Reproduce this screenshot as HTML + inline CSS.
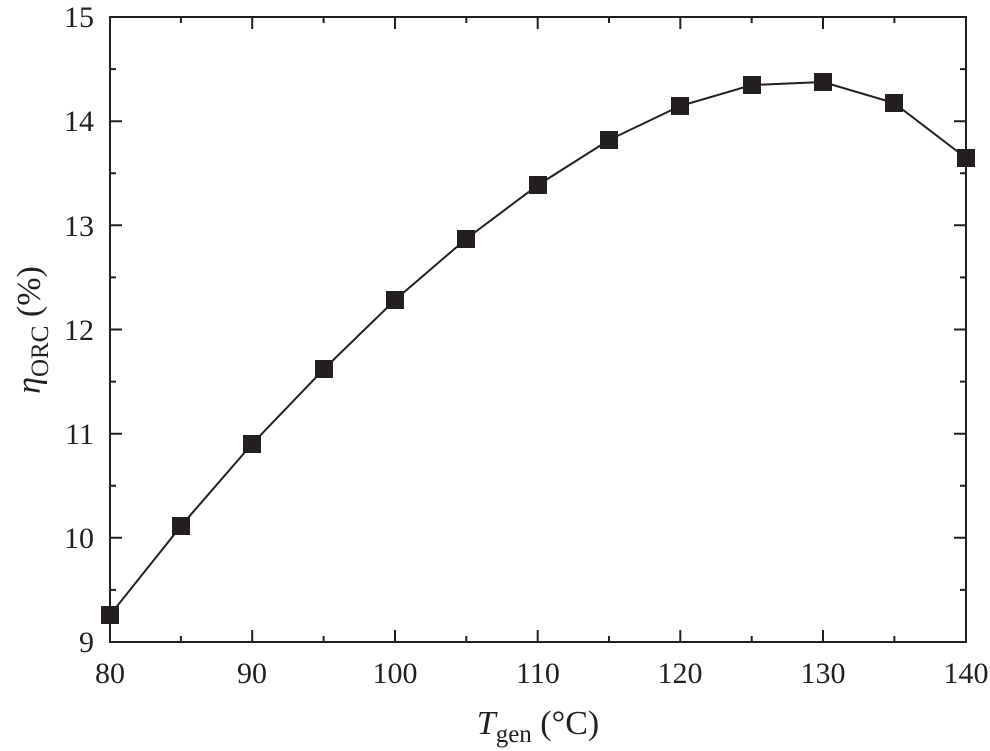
<!DOCTYPE html>
<html><head><style>body{margin:0;background:#fff}svg{display:block}</style></head><body>
<svg width="990" height="751" viewBox="0 0 990 751" xmlns="http://www.w3.org/2000/svg" font-family="Liberation Serif, serif" fill="#231f20">
<g stroke="#231f20" stroke-width="2" fill="none">
<rect x="110" y="17" width="856" height="625"/>
<path d="M180.9,642v-6M252.2,642v-12M323.6,642v-6M395,642v-12M466.3,642v-6M537.7,642v-12M609,642v-6M680.3,642v-12M751.7,642v-6M823,642v-12M894.4,642v-6
M180.9,17v6M252.2,17v12M323.6,17v6M395,17v12M466.3,17v6M537.7,17v12M609,17v6M680.3,17v12M751.7,17v6M823,17v12M894.4,17v6
M110,589.9h6M110,537.8h12M110,485.7h6M110,433.7h12M110,381.6h6M110,329.5h12M110,277.4h6M110,225.3h12M110,173.2h6M110,121.2h12M110,69.1h6
M966,589.9h-6M966,537.8h-12M966,485.7h-6M966,433.7h-12M966,381.6h-6M966,329.5h-12M966,277.4h-6M966,225.3h-12M966,173.2h-6M966,121.2h-12M966,69.1h-6"/>
<polyline stroke-width="2" points="110,615 181,526 252,444 324,369 395,300 466,239 538,185 609,140 680,106 752,85 823,82 894,103 966,158"/>
</g>
<g>
<rect x="101" y="606" width="18" height="18"/><rect x="172" y="517" width="18" height="18"/><rect x="243" y="435" width="18" height="18"/><rect x="315" y="360" width="18" height="18"/><rect x="386" y="291" width="18" height="18"/><rect x="457" y="230" width="18" height="18"/><rect x="529" y="176" width="18" height="18"/><rect x="600" y="131" width="18" height="18"/><rect x="671" y="97" width="18" height="18"/><rect x="743" y="76" width="18" height="18"/><rect x="814" y="73" width="18" height="18"/><rect x="885" y="94" width="18" height="18"/><rect x="957" y="149" width="18" height="18"/>
</g>
<g font-size="30" text-anchor="middle">
<text x="110" y="683">80</text><text x="252" y="683">90</text><text x="395" y="683">100</text><text x="538" y="683">110</text><text x="680" y="683">120</text><text x="823" y="683">130</text><text x="966" y="683">140</text>
</g>
<g font-size="30" text-anchor="end">
<text x="94" y="652">9</text><text x="94" y="548">10</text><text x="94" y="444">11</text><text x="94" y="340">12</text><text x="94" y="236">13</text><text x="94" y="131">14</text><text x="94" y="27">15</text>
</g>
<text x="538" y="734" font-size="34" text-anchor="middle"><tspan font-style="italic">T</tspan><tspan font-size="25" dy="8">gen</tspan><tspan dy="-8"> (°C)</tspan></text>
<text transform="translate(40,330) rotate(-90)" font-size="34" text-anchor="middle"><tspan font-style="italic">η</tspan><tspan font-size="25" dy="8">ORC</tspan><tspan dy="-8"> (%)</tspan></text>
</svg>
</body></html>
